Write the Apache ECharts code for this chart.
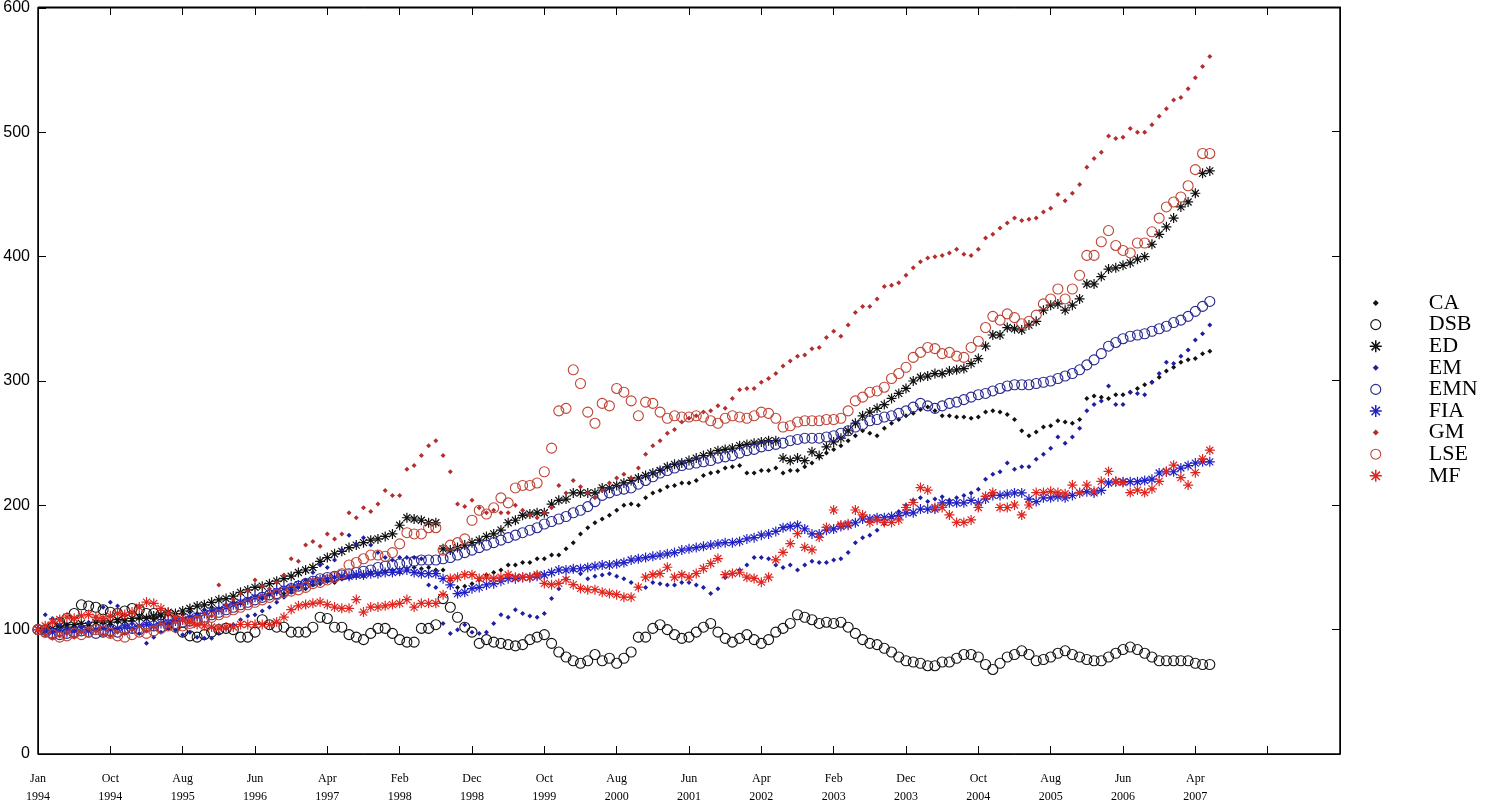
<!DOCTYPE html>
<html>
<head>
<meta charset="utf-8">
<title>Index chart</title>
<script src="https://cdn.jsdelivr.net/npm/echarts@6/dist/echarts.min.js"></script>
<style>
  html, body { margin: 0; padding: 0; background: #fff; }
  #chartDiv { width: 1494px; height: 811px; }
</style>
</head>
<body>
<div id="chartDiv"></div>
<script>
// tick labels on the month axis (one every 10 months, last two ticks unlabeled)
const xTickLabels = ["Jan\n1994", "Oct\n1994", "Aug\n1995", "Jun\n1996", "Apr\n1997", "Feb\n1998",
    "Dec\n1998", "Oct\n1999", "Aug\n2000", "Jun\n2001", "Apr\n2002", "Feb\n2003", "Dec\n2003",
    "Oct\n2004", "Aug\n2005", "Jun\n2006", "Apr\n2007", "", ""];

const seriesNames = ["CA", "DSB", "ED", "EM", "EMN", "FIA", "GM", "LSE", "MF"];

// monthly values, Jan 1994 onward
const CA = [100, 101, 99, 102, 104, 103, 105, 104, 106, 105,
    104, 106, 108, 107, 109, 110, 108, 111, 112, 110,
    112, 114, 113, 116, 118, 117, 120, 122, 121, 124,
    126, 125, 128, 130, 129, 132, 134, 133, 136, 137,
    139, 138, 141, 142, 144, 143, 146, 145, 147, 148,
    146, 148, 150, 149, 150, 148, 148, 140, 134, 135,
    137, 140, 144, 146, 148, 152, 152, 154, 154, 157,
    157, 160, 160, 165, 170, 177, 182, 186, 189, 192,
    196, 200, 201, 200, 206, 210, 212, 215, 216, 218,
    218, 220, 224, 226, 227, 230, 231, 232, 226, 226,
    228, 228, 230, 226, 228, 228, 231, 234, 239, 242,
    245, 248, 252, 256, 260, 258, 256, 262, 266, 269,
    272, 274, 277, 279, 276, 272, 272, 271, 271, 270,
    271, 275, 276, 275, 273, 269, 260, 256, 259, 263,
    264, 268, 267, 266, 269, 286, 288, 287, 286, 289,
    289, 291, 294, 297, 299, 303, 308, 311, 315, 317,
    318, 322, 324];

const DSB = [100, 100, 102, 106, 109, 113, 120, 119, 118, 116,
    114, 113, 115, 117, 116, 113, 113, 112, 108, 104,
    98, 95, 94, 96, 98, 100, 101, 100, 94, 94,
    98, 108, 104, 102, 102, 98, 98, 98, 102, 110,
    109, 102, 102, 96, 94, 92, 97, 101, 101, 97,
    92, 90, 90, 101, 101, 104, 125, 118, 110, 102,
    98, 89, 92, 90, 89, 88, 87, 88, 92, 94,
    96, 89, 82, 78, 75, 73, 75, 80, 75, 77,
    73, 77, 82, 94, 94, 101, 104, 100, 96, 93,
    94, 98, 102, 105, 98, 93, 90, 93, 96, 92,
    89, 92, 98, 101, 105, 112, 110, 108, 105, 106,
    105, 106, 102, 97, 92, 89, 88, 85, 82, 78,
    75, 74, 73, 71, 71, 74, 74, 77, 80, 80,
    78, 72, 68, 73, 78, 80, 83, 80, 75, 76,
    78, 81, 83, 80, 78, 76, 75, 75, 78, 81,
    84, 86, 84, 81, 78, 75, 75, 75, 75, 75,
    73, 72, 72];

const ED = [100, 99, 101, 103, 102, 104, 105, 103, 106, 107,
    106, 108, 107, 109, 110, 109, 111, 112, 114, 113,
    115, 117, 119, 120, 122, 124, 125, 127, 130, 132,
    134, 135, 137, 139, 141, 143, 146, 148, 150, 155,
    158, 161, 163, 166, 168, 170, 172, 173, 175, 177,
    184, 190, 189, 188, 186, 186, 165, 164, 166, 168,
    170, 172, 175, 177, 180, 186, 188, 192, 193, 194,
    194, 201, 204, 205, 210, 210, 210, 210, 214, 214,
    216, 218, 220, 222, 224, 226, 228, 231, 233, 234,
    236, 238, 240, 242, 244, 245, 246, 248, 249, 250,
    251, 252, 252, 238, 236, 238, 236, 243, 240, 247,
    251, 254, 260, 266, 272, 275, 278, 281, 286, 290,
    294, 300, 303, 304, 306, 306, 308, 309, 310, 314,
    318, 328, 337, 337, 343, 342, 341, 345, 348, 357,
    361, 362, 357, 361, 366, 378, 378, 384, 390, 391,
    393, 395, 398, 400, 410, 418, 424, 431, 440, 444,
    451, 467, 469];

const EM = [100, 112, 109, 104, 101, 99, 102, 106, 110, 118,
    122, 119, 112, 105, 97, 89, 94, 98, 101, 99,
    96, 98, 94, 93, 93, 97, 101, 104, 108, 111,
    112, 115, 118, 122, 126, 130, 135, 140, 146, 152,
    150, 156, 164, 176, 169, 174, 168, 162, 158, 156,
    158, 158, 158, 157, 136, 134, 105, 97, 100, 104,
    98, 97, 98, 105, 112, 110, 116, 113, 111, 110,
    113, 125, 133, 141, 148, 145, 141, 143, 144, 145,
    143, 141, 138, 134, 134, 138, 137, 136, 136, 138,
    138, 136, 134, 129, 133, 142, 145, 148, 152, 158,
    158, 157, 152, 150, 152, 148, 152, 155, 154, 154,
    156, 157, 162, 170, 174, 176, 180, 185, 190, 195,
    200, 204, 206, 203, 205, 207, 204, 206, 208, 210,
    213, 221, 225, 227, 234, 229, 231, 231, 237, 241,
    246, 255, 250, 255, 262, 276, 281, 284, 296, 281,
    281, 291, 290, 289, 299, 306, 315, 314, 320, 325,
    333, 338, 345];

const EMN = [100, 98, 97, 96, 97, 98, 99, 98, 97, 98,
    99, 98, 100, 101, 100, 102, 103, 102, 104, 105,
    106, 107, 108, 110, 112, 114, 116, 118, 120, 122,
    124, 126, 128, 129, 131, 133, 135, 137, 139, 141,
    142, 143, 144, 145, 146, 147, 148, 150, 151, 152,
    153, 154, 155, 156, 156, 156, 157, 158, 160, 162,
    164, 166, 168, 170, 172, 174, 176, 178, 180, 182,
    185, 187, 189, 191, 194, 196, 199, 203, 208, 210,
    212, 213, 214, 217, 220, 223, 226, 228, 230, 232,
    233, 234, 235, 236, 238, 239, 240, 242, 244, 245,
    247, 248, 249, 250, 252, 253, 254, 254, 254, 255,
    256, 258, 260, 263, 265, 268, 269, 271, 272, 274,
    276, 279, 282, 280, 278, 280, 282, 283, 285, 287,
    289, 290, 292, 294, 296, 297, 297, 297, 298, 299,
    300, 302, 304, 306, 309, 313, 317, 322, 328, 331,
    334, 336, 337, 338, 340, 342, 344, 347, 349, 352,
    356, 360, 364];

const FIA = [100, 99, 98, 99, 98, 99, 100, 99, 100, 101,
    100, 101, 102, 101, 103, 104, 103, 105, 106, 107,
    108, 110, 111, 113, 115, 116, 118, 120, 122, 124,
    126, 127, 129, 131, 133, 134, 136, 137, 139, 140,
    141, 142, 143, 143, 144, 144, 145, 145, 146, 146,
    147, 148, 146, 145, 145, 145, 141, 136, 129, 130,
    133, 134, 136, 137, 139, 141, 141, 142, 142, 143,
    144, 146, 148, 148, 149, 149, 150, 151, 152, 152,
    153, 154, 156, 157, 158, 159, 160, 161, 162, 164,
    165, 166, 167, 168, 169, 170, 170, 171, 173, 174,
    176, 177, 179, 182, 183, 184, 181, 177, 177, 180,
    181, 183, 184, 186, 189, 189, 190, 190, 191, 192,
    194, 194, 197, 197, 197, 202, 202, 202, 202, 204,
    202, 205, 208, 208, 209, 210, 210, 205, 203, 206,
    206, 207, 206, 208, 210, 211, 210, 212, 218, 219,
    219, 219, 219, 220, 221, 226, 227, 227, 230, 232,
    234, 235, 235];

const GM = [100, 96, 93, 95, 97, 94, 98, 101, 99, 96,
    95, 98, 97, 100, 103, 99, 102, 105, 103, 106,
    108, 106, 110, 113, 111, 136, 120, 124, 129, 131,
    140, 135, 133, 138, 144, 157, 155, 168, 171, 167,
    177, 173, 177, 194, 190, 198, 195, 201, 212, 208,
    208, 229, 232, 240, 248, 252, 240, 227, 201, 199,
    204, 198, 194, 196, 194, 194, 200, 196, 192, 190,
    194, 198, 216, 210, 220, 215, 210, 206, 212, 218,
    222, 225, 222, 230, 241, 248, 252, 258, 261, 267,
    270, 272, 275, 276, 280, 278, 286, 293, 294, 294,
    299, 302, 306, 312, 316, 320, 321, 326, 327, 335,
    340, 336, 345, 355, 360, 360, 366, 376, 377, 379,
    385, 391, 396, 399, 400, 401, 403, 406, 402, 401,
    406, 415, 418, 423, 427, 431, 429, 430, 431, 436,
    439, 450, 445, 451, 458, 472, 479, 484, 497, 495,
    496, 503, 500, 500, 506, 513, 519, 526, 528, 535,
    544, 553, 561];

const LSE = [100, 98, 96, 94, 95, 97, 96, 98, 100, 99,
    97, 95, 94, 96, 98, 97, 99, 101, 103, 102,
    103, 105, 107, 108, 110, 112, 114, 116, 118, 120,
    122, 124, 126, 128, 130, 131, 132, 134, 137, 138,
    140, 142, 145, 152, 154, 157, 160, 160, 159, 162,
    169, 178, 177, 177, 182, 182, 164, 168, 170, 173,
    188, 196, 193, 198, 206, 202, 214, 216, 216, 218,
    227, 246, 276, 278, 309, 298, 275, 266, 282, 280,
    294, 291, 284, 272, 283, 282, 275, 270, 272, 271,
    271, 272, 271, 268, 266, 270, 272, 271, 270, 272,
    275, 274, 270, 263, 264, 267, 268, 268, 268, 269,
    269, 270, 276, 284, 287, 291, 292, 295, 302, 306,
    311, 319, 323, 327, 326, 322, 323, 320, 319, 327,
    332, 343, 352, 349, 354, 351, 346, 348, 353, 362,
    366, 374, 366, 374, 385, 401, 401, 412, 421, 409,
    405, 403, 411, 411, 420, 431, 440, 444, 448, 457,
    470, 483, 483];

const MF = [100, 103, 106, 108, 110, 109, 111, 112, 110, 109,
    111, 113, 112, 114, 118, 122, 121, 117, 113, 110,
    108, 106, 104, 103, 102, 101, 102, 102, 104, 104,
    104, 104, 104, 106, 110, 116, 119, 120, 121, 122,
    120, 118, 117, 117, 124, 114, 118, 118, 119, 120,
    121, 124, 118, 121, 121, 121, 128, 141, 142, 144,
    144, 141, 142, 141, 142, 144, 142, 142, 142, 144,
    137, 136, 137, 140, 136, 133, 132, 132, 130, 129,
    128, 126, 126, 134, 142, 144, 145, 150, 142, 144,
    142, 145, 149, 153, 157, 144, 145, 146, 142, 141,
    138, 142, 156, 162, 169, 177, 166, 164, 174, 182,
    196, 184, 185, 196, 192, 186, 188, 186, 186, 188,
    198, 202, 214, 212, 198, 198, 192, 186, 186, 188,
    198, 207, 210, 198, 198, 200, 192, 200, 210, 210,
    211, 210, 209, 216, 210, 216, 211, 219, 227, 219,
    218, 210, 212, 210, 213, 219, 227, 232, 222, 216,
    226, 237, 244];

let indexChart = echarts.init(document.getElementById("chartDiv"));

// marker shapes
const dotPath = "path://M0,-1L1,0L0,1L-1,0Z";
const dotLegend = "path://M-2,-2M2,2M0,-1L1,0L0,1L-1,0Z";   // same dot, padded so the legend icon stays small
const ringLegend = "path://M-6,-6M6,6M-5,0A5,5 0 1 1 5,0A5,5 0 1 1 -5,0Z";
const starPath = "path://M0,-6L0,6M-6,0L6,0M-4.2,-4.2L4.2,4.2M-4.2,4.2L4.2,-4.2";

// kind: dot / ring / star
const looks = {
    CA: { kind: "dot", color: "#111111" },
    DSB: { kind: "ring", color: "#111111" },
    ED: { kind: "star", color: "#111111" },
    EM: { kind: "dot", color: "#1f1fa3" },
    EMN: { kind: "ring", color: "#28288f" },
    FIA: { kind: "star", color: "#2222c4" },
    GM: { kind: "dot", color: "#b52d2d" },
    LSE: { kind: "ring", color: "#c04436" },
    MF: { kind: "star", color: "#e0261f" },
};
const values = { CA, DSB, ED, EM, EMN, FIA, GM, LSE, MF };

function toPoints(arr) {
    return arr.map(function (v, i) {
        return [i, v];
    });
}

function makeSeries(name, k) {
    const look = looks[name];
    let s = {
        name: name,
        type: "scatter",
        data: toPoints(values[name]),
        animation: false,
        emphasis: { disabled: true },
    };
    // two grids sit on the same rectangle: grid 0 has bottom/left axes, grid 1 top/right.
    // the last series goes on grid 1 so its axes are drawn with ticks too
    if (k == seriesNames.length - 1) {
        s.xAxisIndex = 1;
        s.yAxisIndex = 1;
    }
    if (look.kind == "dot") {
        s.symbol = dotPath;
        s.symbolSize = 5;
        s.itemStyle = { color: look.color, opacity: 1 };
    } else if (look.kind == "ring") {
        s.symbol = "circle";
        s.symbolSize = 10;
        s.itemStyle = { color: "rgba(255,255,255,0)", borderColor: look.color, borderWidth: 1.1, opacity: 1 };
    } else {
        s.symbol = starPath;
        s.symbolSize = 10;
        s.itemStyle = { color: look.color, borderColor: look.color, borderWidth: 1.2, opacity: 1 };
    }
    return s;
}

function legendItem(name) {
    const look = looks[name];
    if (look.kind == "dot") {
        return { name: name, icon: dotLegend, itemStyle: { color: look.color, borderWidth: 0 } };
    } else if (look.kind == "ring") {
        return { name: name, icon: ringLegend, itemStyle: { color: "rgba(255,255,255,0)", borderColor: look.color, borderWidth: 1.1 } };
    }
    return { name: name, icon: starPath, itemStyle: { color: look.color, borderColor: look.color, borderWidth: 1.5 } };
}

function tickStyle() {
    return { show: true, inside: true, length: 8, lineStyle: { color: "#000", width: 1 } };
}
function lineStyle() {
    return { show: true, onZero: false, lineStyle: { color: "#000", width: 1 } };
}
function gridBox() {
    return { left: 38, right: 154, top: 7, bottom: 57, show: true, borderColor: "#000", borderWidth: 1 };
}

indexChart.setOption({
    backgroundColor: "#ffffff",
    animation: false,
    grid: [gridBox(), gridBox()],
    legend: {
        orient: "vertical",
        left: 1364,
        top: 287,
        itemWidth: 12,
        itemHeight: 12,
        itemGap: -0.4,
        selectedMode: false,
        data: seriesNames.map(legendItem),
        textStyle: {
            fontFamily: "Liberation Serif",
            fontSize: 22,
            lineHeight: 21,
            color: "#000",
            padding: [0, 0, 0, 42],
        },
    },
    xAxis: [
        {
            type: "value",
            gridIndex: 0,
            position: "bottom",
            min: 0,
            max: 180,
            interval: 10,
            axisLine: lineStyle(),
            axisTick: tickStyle(),
            splitLine: { show: false },
            axisLabel: {
                margin: 16,
                fontFamily: "Liberation Serif",
                fontSize: 12,
                lineHeight: 18,
                color: "#000",
                formatter: function (v) {
                    return xTickLabels[Math.round(v / 10)] || "";
                },
            },
        },
        {
            type: "value",
            gridIndex: 1,
            position: "top",
            min: 0,
            max: 180,
            interval: 10,
            axisLine: lineStyle(),
            axisTick: tickStyle(),
            splitLine: { show: false },
            axisLabel: { show: false },
        },
    ],
    yAxis: [
        {
            type: "value",
            gridIndex: 0,
            position: "left",
            min: 0,
            max: 600,
            interval: 100,
            axisLine: lineStyle(),
            axisTick: tickStyle(),
            splitLine: { show: false },
            axisLabel: {
                margin: 8,
                fontFamily: "Liberation Sans",
                fontSize: 16,
                color: "#000",
            },
        },
        {
            type: "value",
            gridIndex: 1,
            position: "right",
            min: 0,
            max: 600,
            interval: 100,
            axisLine: lineStyle(),
            axisTick: tickStyle(),
            splitLine: { show: false },
            axisLabel: { show: false },
        },
    ],
    series: seriesNames.map(makeSeries),
});

window.onresize = function () {
    indexChart.resize();
};
</script>
</body>
</html>
